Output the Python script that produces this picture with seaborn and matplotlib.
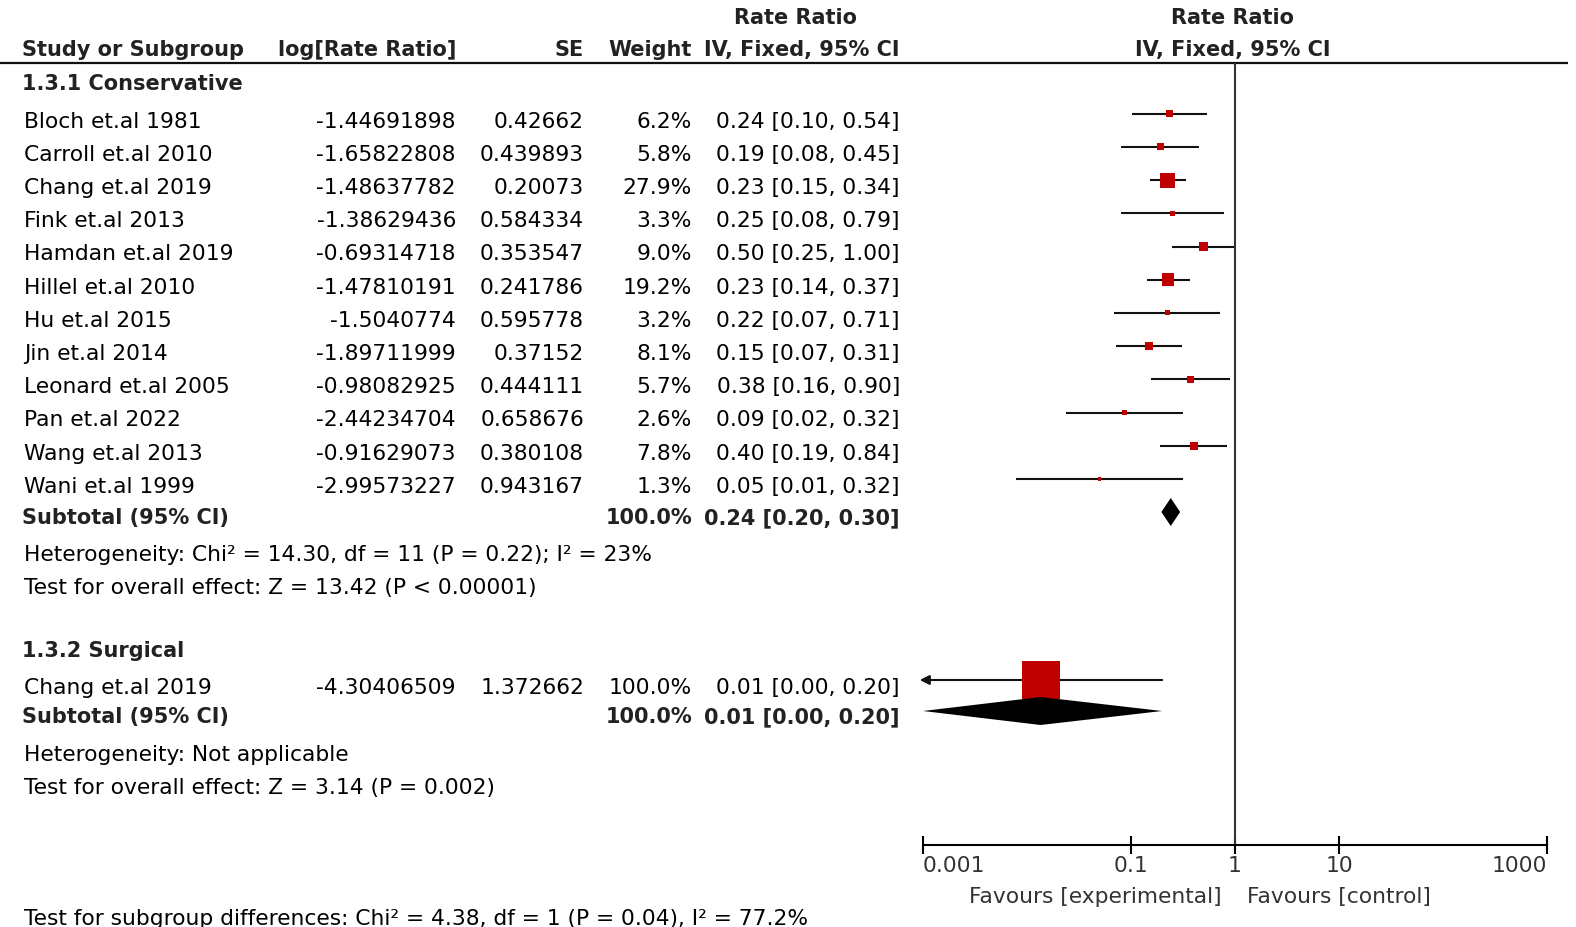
import matplotlib.pyplot as plt
import numpy as np
import pandas as pd
import seaborn as sns
from matplotlib.ticker import NullLocator

sns.set_theme(style="white")
plt.rcParams['font.family'] = ['DejaVu Sans']

# ---- data ----
studies = ["Bloch et.al 1981", "Carroll et.al 2010", "Chang et.al 2019", "Fink et.al 2013",
           "Hamdan et.al 2019", "Hillel et.al 2010", "Hu et.al 2015", "Jin et.al 2014",
           "Leonard et.al 2005", "Pan et.al 2022", "Wang et.al 2013", "Wani et.al 1999"]
log_rr = [-1.44691898, -1.65822808, -1.48637782, -1.38629436, -0.69314718, -1.47810191,
          -1.5040774, -1.89711999, -0.98082925, -2.44234704, -0.91629073, -2.99573227]
se = [0.42662, 0.439893, 0.20073, 0.584334, 0.353547, 0.241786,
      0.595778, 0.37152, 0.444111, 0.658676, 0.380108, 0.943167]
weights = [6.2, 5.8, 27.9, 3.3, 9.0, 19.2, 3.2, 8.1, 5.7, 2.6, 7.8, 1.3]
ci_labels = ["0.24 [0.10, 0.54]", "0.19 [0.08, 0.45]", "0.23 [0.15, 0.34]", "0.25 [0.08, 0.79]",
             "0.50 [0.25, 1.00]", "0.23 [0.14, 0.37]", "0.22 [0.07, 0.71]", "0.15 [0.07, 0.31]",
             "0.38 [0.16, 0.90]", "0.09 [0.02, 0.32]", "0.40 [0.19, 0.84]", "0.05 [0.01, 0.32]"]

surg_studies = ["Chang et.al 2019"]
surg_log_rr = [-4.30406509]
surg_se = [1.372662]
surg_weights = [100.0]
surg_ci_labels = ["0.01 [0.00, 0.20]"]

subtotal_weight = "100.0%"
cons_subtotal = "0.24 [0.20, 0.30]"
surg_subtotal = "0.01 [0.00, 0.20]"
cons_stats = ["Heterogeneity: Chi² = 14.30, df = 11 (P = 0.22); I² = 23%",
              "Test for overall effect: Z = 13.42 (P < 0.00001)"]
surg_stats = ["Heterogeneity: Not applicable",
              "Test for overall effect: Z = 3.14 (P = 0.002)"]
diff_text = "Test for subgroup differences: Chi² = 4.38, df = 1 (P = 0.04), I² = 77.2%"
tick_vals = [0.001, 0.1, 1, 10, 1000]
tick_labels = ["0.001", "0.1", "1", "10", "1000"]


def pooled(lr, s):
    w = 1 / np.array(s) ** 2
    est = np.sum(w * np.array(lr)) / np.sum(w)
    sp = 1 / np.sqrt(np.sum(w))
    return np.exp(est), np.exp(est - 1.96 * sp), np.exp(est + 1.96 * sp)


cons = pd.DataFrame({'study': studies, 'lr': log_rr, 'se': se, 'w': weights, 'ci': ci_labels})
cons['rr'] = np.exp(cons.lr)
cons['lo'] = np.exp(cons.lr - 1.96 * cons.se)
cons['hi'] = np.exp(cons.lr + 1.96 * cons.se)

surg = pd.DataFrame({'study': surg_studies, 'lr': surg_log_rr, 'se': surg_se,
                     'w': surg_weights, 'ci': surg_ci_labels})
surg['rr'] = np.exp(surg.lr)
surg['lo'] = np.exp(surg.lr - 1.96 * surg.se)
surg['hi'] = np.exp(surg.lr + 1.96 * surg.se)

# ---- layout (pixels) ----
W, H = 1576, 928
X0, XLOG, XSE, XW, XCI = 24, 456, 584, 692, 900
AX_L, AX_R, AX_Y = 923, 1547, 846
FS = 15.7      # regular text
FSB = 15       # bold headers
MOFF = 13      # markers sit a bit above the text baseline

cons['y'] = 127.7 + 33.2 * np.arange(len(cons))
surg['y'] = 694.0 + 33.2 * np.arange(len(surg))
y_sub1, y_het1, y_test1 = 524, 561, 594.5
y_grp2, y_sub2, y_het2, y_test2 = 657, 723, 761.5, 794

fig = plt.figure(figsize=(W / 100, H / 100), dpi=100)
ax = fig.add_axes([0, 0, 1, 1])
ax.set_xlim(0, W)
ax.set_ylim(H, 0)
ax.axis('off')
ax.patch.set_alpha(0)


def put(x, y, s, ha='left', bold=False, color='black'):
    ax.text(x, y, s, ha=ha, va='baseline', fontsize=FSB if bold else FS,
            fontweight='bold' if bold else 'normal', color=color)


hd = '#222222'
put(796, 24, "Rate Ratio", ha='center', bold=True, color=hd)
put(1233, 24, "Rate Ratio", ha='center', bold=True, color=hd)
put(22, 56, "Study or Subgroup", bold=True, color=hd)
put(XLOG, 56, "log[Rate Ratio]", ha='right', bold=True, color=hd)
put(XSE, 56, "SE", ha='right', bold=True, color=hd)
put(XW, 56, "Weight", ha='right', bold=True, color=hd)
put(XCI, 56, "IV, Fixed, 95% CI", ha='right', bold=True, color=hd)
put(1233, 56, "IV, Fixed, 95% CI", ha='center', bold=True, color=hd)
ax.hlines(63.5, 0, 1568, color='#111111', lw=1.6)

put(22, 90.5, "1.3.1 Conservative", bold=True, color=hd)
for df in (cons, surg):
    for _, r in df.iterrows():
        put(X0, r.y, r.study)
        put(XLOG, r.y, str(r.lr), ha='right')
        put(XSE, r.y, str(r.se), ha='right')
        put(XW, r.y, f"{r.w:.1f}%", ha='right')
        put(XCI, r.y, r.ci, ha='right')

put(22, y_sub1, "Subtotal (95% CI)", bold=True, color=hd)
put(XW, y_sub1, subtotal_weight, ha='right', bold=True, color=hd)
put(XCI, y_sub1, cons_subtotal, ha='right', bold=True, color=hd)
put(X0, y_het1, cons_stats[0])
put(X0, y_test1, cons_stats[1])

put(22, y_grp2, "1.3.2 Surgical", bold=True, color=hd)
put(22, y_sub2, "Subtotal (95% CI)", bold=True, color=hd)
put(XW, y_sub2, subtotal_weight, ha='right', bold=True, color=hd)
put(XCI, y_sub2, surg_subtotal, ha='right', bold=True, color=hd)
put(X0, y_het2, surg_stats[0])
put(X0, y_test2, surg_stats[1])

put(1222, 903, "Favours [experimental]", ha='right', color='#333333')
put(1247, 903, "Favours [control]", color='#333333')
put(X0, 925, diff_text)

# ---- forest panel ----
axf = fig.add_axes([AX_L / W, (H - AX_Y) / H, (AX_R - AX_L) / W, AX_Y / H])
axf.patch.set_alpha(0)
axf.set_xscale('log')
xmin, xmax = tick_vals[0], tick_vals[-1]

for df in (cons, surg):
    for _, r in df.iterrows():
        ym = r.y - MOFF
        if r.lo < xmin:
            axf.annotate('', xy=(xmin * 0.93, ym), xytext=(r.hi, ym),
                         arrowprops=dict(arrowstyle='-|>', color='#111111', lw=1.5,
                                         mutation_scale=14, shrinkA=0, shrinkB=0),
                         annotation_clip=False)
        else:
            axf.hlines(ym, r.lo, r.hi, color='#111111', lw=1.5)

cons['ym'] = cons.y - MOFF
wmin, wmax = cons.w.min(), cons.w.max()
sns.scatterplot(data=cons, x='rr', y='ym', size='w', sizes=(4.2 * wmin, 4.2 * wmax),
                size_norm=(wmin, wmax), marker='s', color='#c00000', linewidth=0,
                legend=False, ax=axf, zorder=3)
axf.scatter(surg.rr, surg.y - MOFF, s=7.3 * surg.w, marker='s', color='#c00000',
            linewidth=0, zorder=3)

# subtotal diamonds (inverse-variance fixed effect)
for (lr, s), yb in (((log_rr, se), y_sub1), ((surg_log_rr, surg_se), y_sub2)):
    est, lo, hi = pooled(lr, s)
    lo = max(lo, xmin)
    yc = yb - 11
    axf.fill([lo, est, hi, est], [yc, yc - 14, yc, yc + 14], color='black', lw=0, zorder=4)

axf.vlines(1, 63.5, AX_Y, color='#333333', lw=1.5)

axf.set_xlim(xmin, xmax)
axf.set_ylim(AX_Y, 0)
axf.set_xticks(tick_vals)
axf.set_xticklabels(tick_labels)
axf.xaxis.set_minor_locator(NullLocator())
axf.set_yticks([])
axf.set_xlabel('')
axf.set_ylabel('')
axf.tick_params(axis='x', bottom=True, direction='inout', length=12.5, width=1.5,
                pad=1, labelsize=FS, labelcolor='#333333', color='black')
labels = axf.get_xticklabels()
labels[0].set_ha('left')
labels[-1].set_ha('right')
for side in ('top', 'left', 'right'):
    axf.spines[side].set_visible(False)
axf.spines['bottom'].set_color('black')
axf.spines['bottom'].set_linewidth(1.5)

fig.savefig('out.png', dpi=100)
